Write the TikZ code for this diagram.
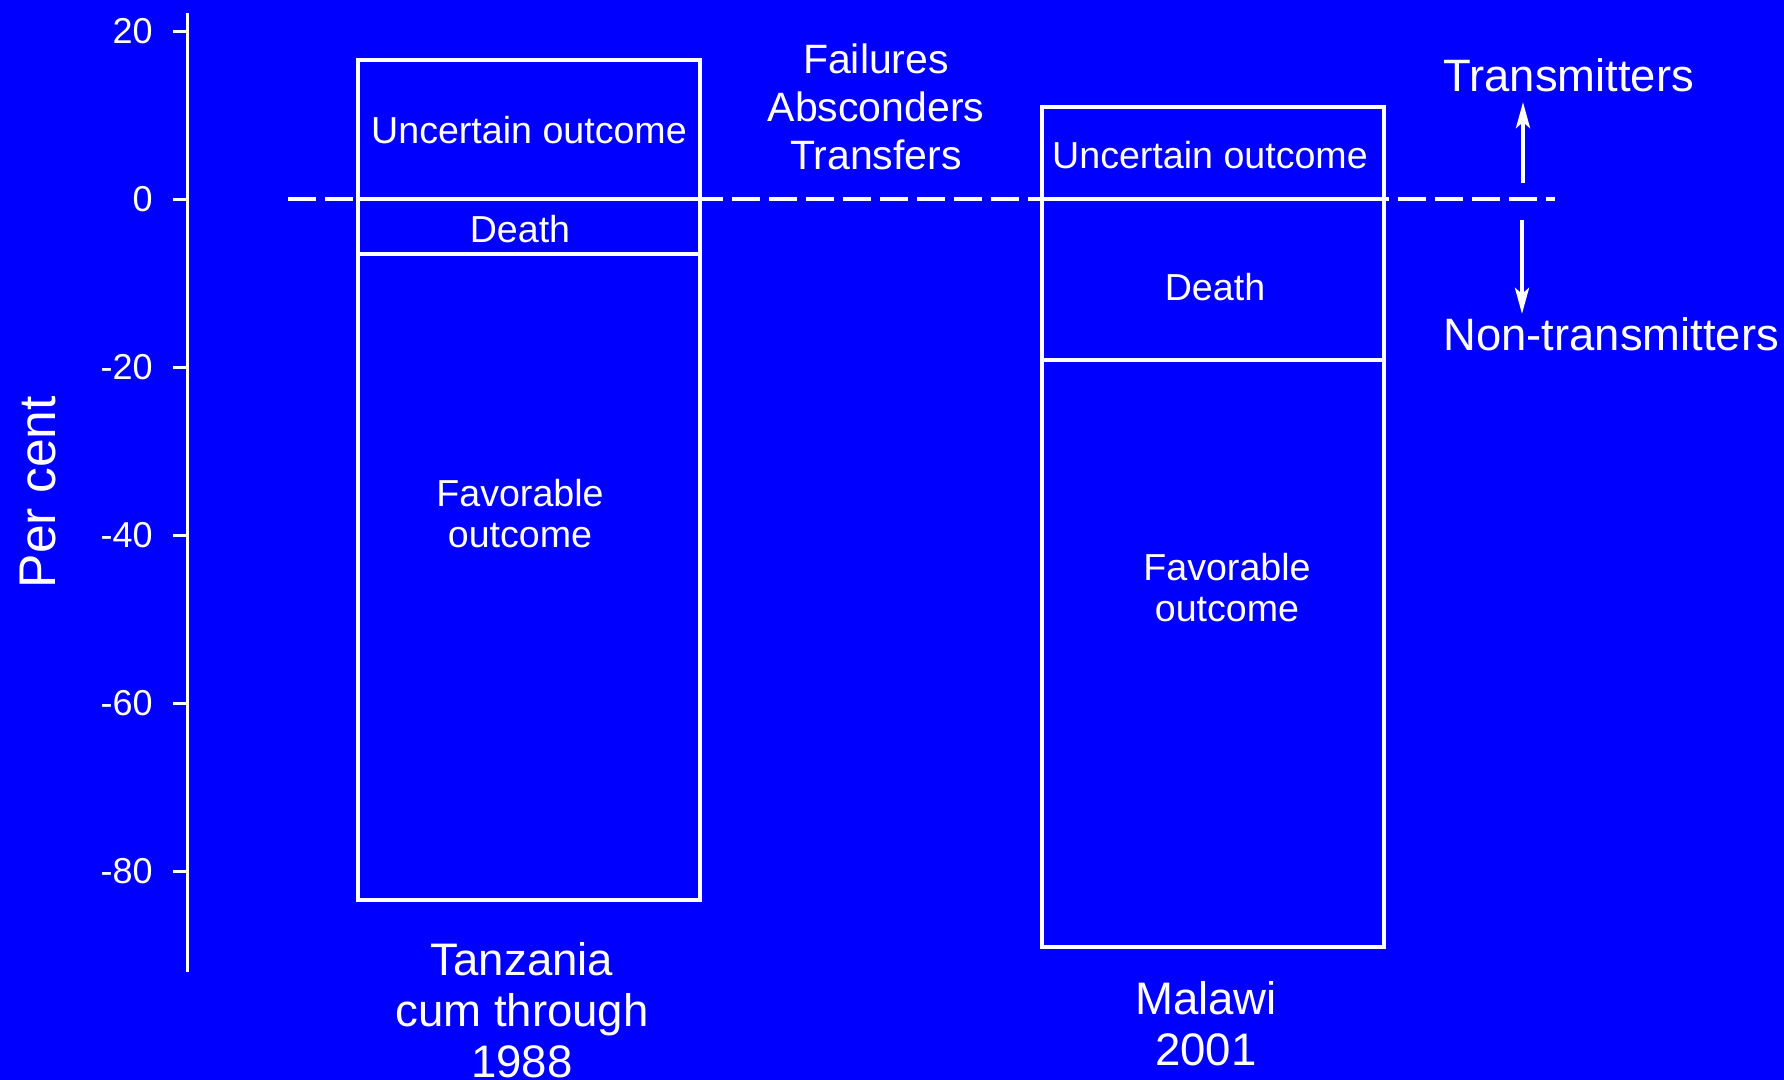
\documentclass[tikz,border=0pt]{standalone}
\usepackage{fontspec}
\setmainfont{Liberation Sans}
\usetikzlibrary{arrows.meta,positioning}

\tikzset{
  bar/.style={draw=white, line width=2pt},
  tick/.style={text=white, inner sep=0pt, anchor=east, font=\fontsize{18}{20}\selectfont},
  inbox/.style={text=white, inner sep=0pt, align=center, font=\fontsize{18.8}{20.5}\selectfont},
  note/.style={text=white, inner sep=0pt, align=center, font=\fontsize{20.5}{24}\selectfont},
  side/.style={text=white, inner sep=0pt, anchor=west, font=\fontsize{22.7}{25}\selectfont},
  cat/.style={text=white, inner sep=0pt, align=center, font=\fontsize{22.8}{25.5}\selectfont}
}

\begin{document}
\begin{tikzpicture}[x=0.5pt, y=4.2pt, >={Stealth[length=13pt,width=7pt,inset=3pt]}, white]
    \fill[blue] (0,23.69) rectangle (1784,-104.88);
    \useasboundingbox (0,23.69) rectangle (1784,-104.88);

    % axis
    \draw[line width=1.5pt] (187,22.14) -- (187,-92.02);
    \foreach \v in {20,0,...,-80} {
        \draw[line width=1.5pt] (173,\v) -- (187,\v);
        \node[tick] (t\v) at (153,\v) {\v};
    }
    \node[text=white, rotate=90, inner sep=0pt, font=\fontsize{25.8}{28}\selectfont] (ylab) at (38,-34.9) {Per cent};

    % zero line
    \draw[dash pattern=on 14pt off 4.5pt, line width=2pt] (288,0) -- (1555,0);

    % Tanzania
    \draw[bar] (358,16.5) rectangle (700,-83.5);
    \draw[bar] (358,0) -- (700,0);
    \draw[bar] (358,-6.5) -- (700,-6.5);
    \node[inbox] (tzunc)   at (529,8.21)  {Uncertain outcome};
    \node[inbox] (tzdeath) at (520,-3.57) {Death};
    \node[inbox] (tzfav)   at (520,-37.4) {Favorable\\outcome};
    \node[cat]   (tz)      at (522,-96.55) {Tanzania\\cum through\\1988};

    % Malawi
    \draw[bar] (1042,10.9) rectangle (1384,-89.1);
    \draw[bar] (1042,0) -- (1384,0);
    \draw[bar] (1042,-19.2) -- (1384,-19.2);
    \node[inbox] (mwunc)   at (1210,5.24)   {Uncertain outcome};
    \node[inbox] (mwdeath) at (1215,-10.48) {Death};
    \node[inbox] (mwfav)   at (1227,-46.3)  {Favorable\\outcome};
    \node[cat]   (mw)      at (1206,-98.2)  {Malawi\\2001};

    \node[note] (lost) at (876,10.95) {Failures\\Absconders\\Transfers};

    % transmitters
    \node[side] (trans)    at (1443,14.76)  {Transmitters};
    \node[side] (nontrans) at (1443,-16.07) {Non-transmitters};
    \coordinate (upfoot)   at (1523,1.9);
    \coordinate (downfoot) at (1522,-2.5);
    \draw[->, line width=2pt, shorten >=5pt] (upfoot) -- (upfoot |- trans.south);
    \draw[->, line width=2pt, shorten >=1.5pt] (downfoot) -- (downfoot |- nontrans.north);
\end{tikzpicture}
\end{document}
